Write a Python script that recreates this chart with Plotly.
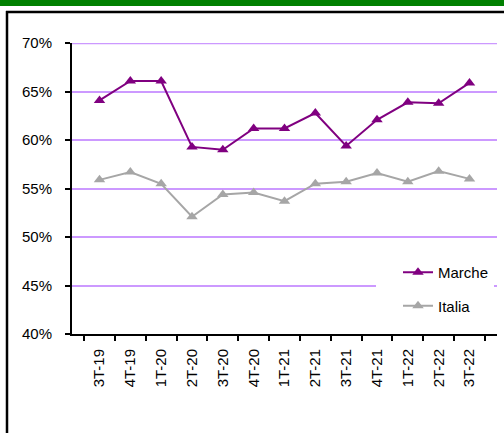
import plotly.graph_objects as go

quarters = ["3T-19", "4T-19", "1T-20", "2T-20", "3T-20", "4T-20", "1T-21",
            "2T-21", "3T-21", "4T-21", "1T-22", "2T-22", "3T-22"]
marche = [0.641, 0.661, 0.661, 0.593, 0.590, 0.612, 0.612, 0.628, 0.594,
          0.621, 0.639, 0.638, 0.659]
italia = [0.559, 0.567, 0.555, 0.521, 0.544, 0.546, 0.537, 0.555, 0.557,
          0.566, 0.557, 0.568, 0.560]
y_min, y_max, y_step = 0.40, 0.70, 0.05

W, H = 504, 433
L, R, T, B = 72, 7, 43, 99
PW, PH = W - L - R, H - T - B

def px_x(x):
    return (x - L) / PW

def px_y(y):
    return (H - B - y) / PH

font = "Arial, Liberation Sans, sans-serif"
grid_color = "#CC99FF"

fig = go.Figure()
fig.add_trace(go.Scatter(
    x=quarters, y=marche, name="Marche", mode="lines+markers",
    line=dict(color="#800080", width=2),
    marker=dict(symbol="triangle-up", size=10, color="#800080"),
    legendgroup="a"))
fig.add_trace(go.Scatter(
    x=quarters, y=italia, name="Italia", mode="lines+markers",
    line=dict(color="#A6A6A6", width=2),
    marker=dict(symbol="triangle-up", size=10, color="#A6A6A6"),
    legendgroup="b"))

fig.update_layout(
    width=W, height=H,
    margin=dict(l=L, r=R, t=T, b=B, pad=0),
    paper_bgcolor="white", plot_bgcolor="white",
    font=dict(family=font, size=15, color="black"),
    showlegend=True,
    legend=dict(x=px_x(376), y=px_y(256), xanchor="left", yanchor="top",
                bgcolor="white", borderwidth=0, tracegroupgap=11,
                indentation=22, font=dict(size=15, family=font)),
    xaxis=dict(type="category", showgrid=False, showline=True,
               linecolor="black", linewidth=2, ticks="outside",
               tickson="boundaries", ticklen=5, tickwidth=2, tickcolor="black",
               tickangle=-90, tickfont=dict(size=15, family=font),
               ticklabelstandoff=7),
    yaxis=dict(range=[y_min, y_max + 0.0002], tick0=y_min, dtick=y_step,
               tickformat=".0%",
               showgrid=True, gridcolor=grid_color, gridwidth=2,
               showline=True, linecolor="black", linewidth=2,
               ticks="outside", ticklen=5, tickwidth=2, tickcolor="black",
               tickfont=dict(size=15, family=font), ticklabelstandoff=10,
               zeroline=False),
    shapes=[
        dict(type="line", xref="paper", yref="y", x0=0, x1=1,
             y0=y_max, y1=y_max, line=dict(color=grid_color, width=2),
             layer="below"),
        dict(type="rect", xref="paper", yref="paper",
             x0=px_x(0), x1=px_x(W), y0=px_y(6), y1=px_y(0),
             fillcolor="#008000", line=dict(width=0), layer="above"),
        dict(type="line", xref="paper", yref="paper",
             x0=px_x(6), x1=px_x(W), y0=px_y(12), y1=px_y(12),
             line=dict(color="black", width=2.5)),
        dict(type="line", xref="paper", yref="paper",
             x0=px_x(7), x1=px_x(7), y0=px_y(11), y1=px_y(H),
             line=dict(color="black", width=2.5)),
    ],
)

fig.write_html("out.html", config={"displayModeBar": False},
               post_script="document.body.style.margin='0';document.body.style.overflow='hidden';")
